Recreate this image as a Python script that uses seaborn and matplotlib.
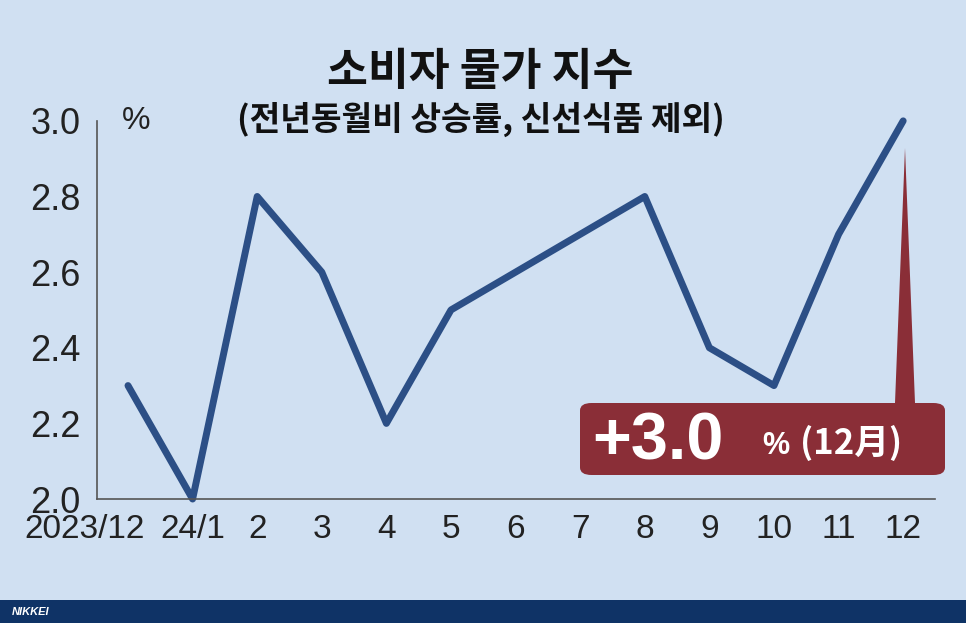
import matplotlib
matplotlib.use("Agg")
import matplotlib.pyplot as plt
import matplotlib.transforms as mtrans
import seaborn as sns
import pandas as pd
from matplotlib.patches import FancyBboxPatch, Polygon

labels = ["2023/12", "24/1", "2", "3", "4", "5", "6", "7", "8", "9", "10", "11", "12"]
values = [2.3, 2.0, 2.8, 2.6, 2.2, 2.5, 2.6, 2.7, 2.8, 2.4, 2.3, 2.7, 3.0]
yticks = [2.0, 2.2, 2.4, 2.6, 2.8, 3.0]

sns.set_theme(style="white")
plt.rcParams['font.family'] = ['Liberation Sans', 'DejaVu Sans']
kr = ['Noto Sans CJK KR', 'DejaVu Sans']
bg = "#d0e0f2"
navy = "#2c4f86"
red = "#8a2e37"

fig = plt.figure(figsize=(9.66, 6.23), dpi=100, facecolor=bg)
ax = fig.add_axes([0.1004, 0.199, 0.868, 0.607])
ax.set_facecolor(bg)
df = pd.DataFrame({"x": range(len(labels)), "v": values})
sns.lineplot(data=df, x="x", y="v", ax=ax, color=navy, linewidth=5, clip_on=False)
ax.set_xlim(-0.48, 12.5)
ax.set_ylim(2.0, 3.0)
ax.set_xticks(range(len(labels)))
ax.set_xticklabels(labels, fontsize=24)
ax.set_yticks(yticks)
ax.set_yticklabels([f"{t:.1f}" for t in yticks], fontsize=26)
ax.set_xlabel(""); ax.set_ylabel("")
for s in ["top", "right"]:
    ax.spines[s].set_visible(False)
for s in ["left", "bottom"]:
    ax.spines[s].set_color("#555555"); ax.spines[s].set_linewidth(1.2)
ax.tick_params(axis="y", direction="out", length=8, width=1.2, color="#555555", pad=4, labelcolor="#222222")
ax.tick_params(axis="x", direction="out", length=7, width=1.2, color="#555555", pad=4, labelcolor="#222222")
first = ax.get_xticklabels()[0]
first.set_horizontalalignment("right")
first.set_transform(first.get_transform() + mtrans.ScaledTranslation(0.17, 0, fig.dpi_scale_trans))
ax.text(0.03, 1.0, "%", transform=ax.transAxes, fontsize=23, va="center", ha="left", color="#222222")

# annotation
fig.patches.append(Polygon([(895/966, 1-403/623), (915/966, 1-403/623), (905/966, 1-148/623)],
                           closed=True, transform=fig.transFigure, facecolor=red, edgecolor="none"))
fig.patches.append(FancyBboxPatch((580/966, 1-475/623), 365/966, 72/623,
                                  boxstyle="round,pad=0,rounding_size=0.012",
                                  transform=fig.transFigure, facecolor=red, edgecolor="none"))
fig.text(592/966, 1-443/623, "+3.0", fontsize=48, color="white", fontweight="bold",
         va="center", ha="left")
fig.text(762/966, 1-446/623, "%", fontsize=22, color="white", fontweight="bold",
         va="center", ha="left")
fig.text(800/966, 1-443/623, "(12月)", fontsize=25, color="white", fontweight="bold",
         va="center", ha="left", family=kr)

fig.text(480/966, 1-72/623, "소비자 물가 지수", fontsize=32, fontweight="bold", ha="center", va="center", family=kr, color="#111111")
fig.text(481/966, 1-119/623, "(전년동월비 상승률, 신선식품 제외)", fontsize=24, fontweight="bold", ha="center", va="center", family=kr, color="#111111")

fig.patches.append(plt.Rectangle((0, 0), 1, 23/623, transform=fig.transFigure, facecolor="#0f3366", edgecolor="none"))
fig.text(12/966, 11/623, "NIKKEI", fontsize=8, color="white", fontweight="bold", style="italic", va="center")

fig.savefig("out.png", dpi=100, facecolor=bg)
